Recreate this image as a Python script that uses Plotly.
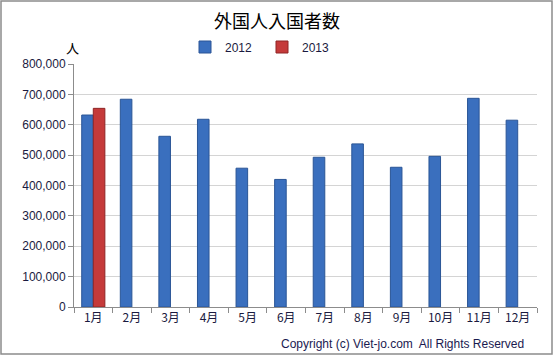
import plotly.graph_objects as go

months = ["1月", "2月", "3月", "4月", "5月", "6月", "7月", "8月", "9月", "10月", "11月", "12月"]
values_2012 = [632000, 684000, 562000, 618000, 457000, 420000, 493000, 537000, 460000, 496000, 687000, 615000]
months_2013 = ["1月"]
values_2013 = [654000]
tick_vals = [0, 100000, 200000, 300000, 400000, 500000, 600000, 700000, 800000]
tick_text = ["0", "100,000", "200,000", "300,000", "400,000", "500,000", "600,000", "700,000", "800,000"]

W, H = 554, 358
L, R, T, B = 74, 17, 64, 51
pw, ph = W - L - R, H - T - B

font = "Liberation Sans, Noto Sans CJK JP, sans-serif"

fig = go.Figure()
fig.add_trace(go.Bar(x=months, y=values_2012, name="2012",
                     marker=dict(color="#3a6fbe", line=dict(color="#2a5596", width=1))))
fig.add_trace(go.Bar(x=months_2013, y=values_2013, name="2013",
                     marker=dict(color="#c53a3a", line=dict(color="#8f2525", width=1))))

def px2x(p):
    return (p - L) / pw

def px2y(p):
    return (H - B - p) / ph

fig.update_layout(
    width=W, height=H,
    margin=dict(l=L, r=R, t=T, b=B),
    paper_bgcolor="white", plot_bgcolor="white",
    barmode="group", bargap=0.4, bargroupgap=0,
    font=dict(family=font, size=11, color="#1a1a40"),
    title=dict(text="外国人入国者数", x=0.5, xanchor="center", y=1 - 22 / H, yanchor="middle",
               font=dict(family="Noto Sans CJK JP, sans-serif", size=18, color="black")),
    showlegend=True,
    legend=dict(orientation="h", x=px2x(262), xanchor="center", y=px2y(47), yanchor="middle",
                font=dict(size=12, color="#1a1a40"), itemwidth=30, traceorder="normal",
                entrywidth=32, entrywidthmode="pixels", tracegroupgap=0,
                bgcolor="rgba(0,0,0,0)"),
    xaxis=dict(type="category", showline=True, linecolor="#8c8c8c", linewidth=1,
               ticks="outside", ticklen=5, tickcolor="#8c8c8c", tickson="boundaries",
               showgrid=False, tickfont=dict(family="Noto Sans CJK JP, sans-serif", size=12, color="#1a1a40"),
               mirror=False),
    yaxis=dict(range=[0, 800000], tickvals=tick_vals, ticktext=tick_text,
               showline=True, linecolor="#8c8c8c", linewidth=1,
               ticks="outside", ticklen=5, tickcolor="#8c8c8c",
               showgrid=True, gridcolor="#d4d4d4", gridwidth=1, zeroline=False,
               tickfont=dict(size=12, color="#1a1a40")),
    annotations=[
        dict(text="人", x=px2x(72), y=px2y(47), xref="paper", yref="paper",
             showarrow=False, xanchor="center", yanchor="middle",
             font=dict(family="Noto Sans CJK JP, sans-serif", size=13, color="black")),
        dict(text="Copyright (c) Viet-jo.com  All Rights Reserved", x=px2x(526), y=px2y(344),
             xref="paper", yref="paper", showarrow=False, xanchor="right", yanchor="middle",
             font=dict(size=12, color="#1a1a50")),
    ],
    shapes=[
        dict(type="rect", xref="paper", yref="paper",
             x0=px2x(1), x1=px2x(552), y0=px2y(354), y1=px2y(1),
             line=dict(color="#8c8c8c", width=1.5), fillcolor="rgba(0,0,0,0)", layer="below"),
    ],
)

fig.write_html("out.html", config={"displayModeBar": False},
               post_script="document.body.style.margin='0';document.body.style.overflow='hidden';")
